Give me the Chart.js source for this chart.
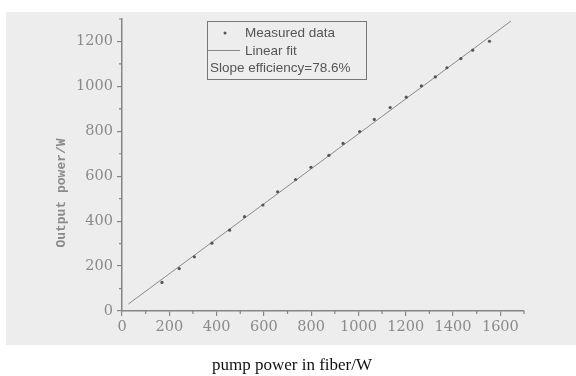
<!DOCTYPE html>
<html>
<head>
<meta charset="utf-8">
<script src="https://cdn.jsdelivr.net/npm/chart.js@4.4.0/dist/chart.umd.min.js"></script>
<style>
  html, body { margin: 0; padding: 0; background: #fff; }
  #wrap { width: 576px; height: 376px; }
</style>
</head>
<body>
<div id="wrap"><canvas id="powerChart" width="576" height="376"></canvas></div>
<script>
// measured points
const pumpPower = [169, 242, 306, 380, 455, 518, 596, 658, 734, 799, 875, 935, 1005, 1067, 1134, 1202, 1266, 1325, 1374, 1433, 1483, 1554];
const outputPower = [127, 189, 241, 302, 360, 420, 472, 531, 585, 640, 693, 746, 799, 853, 906, 952, 1002, 1042, 1083, 1124, 1161, 1201];

// fitted line end points
const fitX = [27, 1645];
const fitY = [31, 1291];

const xTicks = [0, 200, 400, 600, 800, 1000, 1200, 1400, 1600];
const yTicks = [0, 200, 400, 600, 800, 1000, 1200];
const xMinor = [100, 300, 500, 700, 900, 1100, 1300, 1500, 1700];
const yMinor = [100, 300, 500, 700, 900, 1100, 1300];

const xTitle = "pump power in fiber/W";
const yTitle = "Output power/W";
const slopeText = "Slope efficiency=78.6%";

const axisColor = '#858585';
const labelColor = '#8a8a8a';

// scanned page look + titles + legend box
const pagePlugin = {
  id: 'page',
  beforeDraw(chart) {
    const ctx = chart.ctx;
    ctx.save();
    ctx.fillStyle = '#ffffff';
    ctx.fillRect(0, 0, chart.width, chart.height);
    ctx.fillStyle = '#ededed';
    ctx.fillRect(6, 12, chart.width - 6, 333);
    ctx.restore();
  },
  afterDraw(chart) {
    const ctx = chart.ctx;
    const xs = chart.scales.x, ys = chart.scales.y;
    ctx.save();

    // minor ticks
    ctx.strokeStyle = axisColor;
    ctx.lineWidth = 1.2;
    ctx.beginPath();
    xMinor.forEach(v => {
      const px = xs.getPixelForValue(v);
      ctx.moveTo(px, ys.bottom);
      ctx.lineTo(px, ys.bottom + 3);
    });
    yMinor.forEach(v => {
      const py = ys.getPixelForValue(v);
      ctx.moveTo(xs.left, py);
      ctx.lineTo(xs.left - 3, py);
    });
    ctx.stroke();

    // axis titles
    ctx.fillStyle = '#111';
    ctx.font = '17px "Liberation Serif", serif';
    ctx.textAlign = 'center';
    ctx.textBaseline = 'middle';
    ctx.fillText(xTitle, 292, 366);

    ctx.save();
    ctx.translate(62, 193);
    ctx.rotate(-Math.PI / 2);
    ctx.fillStyle = labelColor;
    ctx.font = 'bold 13px "Liberation Mono", monospace';
    ctx.fillText(yTitle, 0, 0);
    ctx.restore();

    // legend box
    ctx.strokeStyle = '#777';
    ctx.lineWidth = 1;
    ctx.strokeRect(207.5, 21.5, 159, 58);
    ctx.fillStyle = '#555';
    ctx.font = '13.5px "Liberation Sans", Arial, sans-serif';
    ctx.textAlign = 'left';
    ctx.textBaseline = 'middle';
    const ds = chart.data.datasets;
    ctx.beginPath();
    ctx.arc(225, 33, 1.5, 0, Math.PI * 2);
    ctx.fill();
    ctx.fillText(ds[0].label, 245, 33);
    ctx.strokeStyle = '#888';
    ctx.beginPath();
    ctx.moveTo(208, 50.5);
    ctx.lineTo(240, 50.5);
    ctx.stroke();
    ctx.fillText(ds[1].label, 245, 51);
    ctx.fillText(slopeText, 210, 68);
    ctx.restore();
  }
};

const ctx = document.getElementById('powerChart').getContext('2d');
new Chart(ctx, {
  type: 'scatter',
  data: {
    datasets: [
      {
        label: 'Measured data',
        data: pumpPower.map((x, i) => ({ x: x, y: outputPower[i] })),
        pointRadius: 1.6,
        pointBackgroundColor: '#555',
        pointBorderWidth: 0,
        showLine: false
      },
      {
        type: 'line',
        label: 'Linear fit',
        data: fitX.map((x, i) => ({ x: x, y: fitY[i] })),
        borderColor: '#8a8a8a',
        borderWidth: 1,
        pointRadius: 0,
        fill: false
      }
    ]
  },
  options: {
    responsive: false,
    devicePixelRatio: 1,
    animation: false,
    layout: { padding: { left: 0, right: 52, top: 19, bottom: 0 } },
    plugins: {
      legend: { display: false },
      tooltip: { enabled: false }
    },
    scales: {
      x: {
        type: 'linear',
        min: 0,
        max: 1700,
        afterBuildTicks: s => { s.ticks = xTicks.map(v => ({ value: v })); },
        afterFit: s => { s.height = 65; },
        grid: { display: true, drawOnChartArea: false, drawTicks: true, tickLength: 5, color: axisColor, lineWidth: 1.2 },
        border: { display: true, color: axisColor, width: 1.5 },
        ticks: {
          color: labelColor,
          padding: 3,
          maxRotation: 0,
          callback: v => String(v),
          font: { family: '"DejaVu Serif", serif', size: 14.5 }
        }
      },
      y: {
        type: 'linear',
        min: 0,
        max: 1300,
        afterBuildTicks: s => { s.ticks = yTicks.map(v => ({ value: v })); },
        afterFit: s => { s.width = 122; },
        grid: { display: true, drawOnChartArea: false, drawTicks: true, tickLength: 5, color: axisColor, lineWidth: 1.2 },
        border: { display: true, color: axisColor, width: 1.5 },
        ticks: {
          color: labelColor,
          padding: 4,
          callback: v => String(v),
          font: { family: '"DejaVu Serif", serif', size: 14.5 }
        }
      }
    }
  },
  plugins: [pagePlugin]
});
</script>
</body>
</html>
